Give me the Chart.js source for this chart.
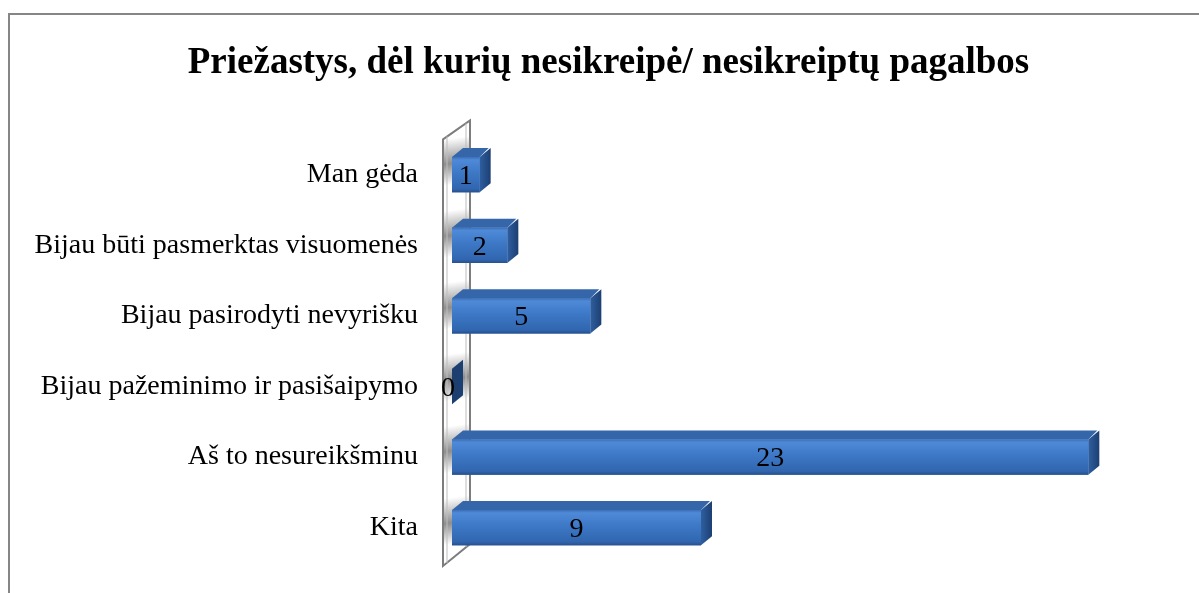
<!DOCTYPE html>
<html>
<head>
<meta charset="utf-8">
<script src="https://cdn.jsdelivr.net/npm/chart.js"></script>
<style>
  html, body { margin: 0; padding: 0; background: #fff; }
  #wrap { position: relative; width: 1199px; height: 593px; overflow: hidden; }
</style>
</head>
<body>
<div id="wrap"><canvas id="c" width="1199" height="593"></canvas></div>
<script>
var categories = [
  'Man gėda',
  'Bijau būti pasmerktas visuomenės',
  'Bijau pasirodyti nevyrišku',
  'Bijau pažeminimo ir pasišaipymo',
  'Aš to nesureikšminu',
  'Kita'
];
var counts = [1, 2, 5, 0, 23, 9];
var chartTitle = 'Priežastys, dėl kurių nesikreipė/ nesikreiptų pagalbos';
var xMax = 27;

var serif = "'Liberation Serif', 'Times New Roman', serif";
var DEPTH_X = 11, DEPTH_Y = 9;

// outer frame of the chart object (only top + left visible)
var framePlugin = {
  id: 'frame',
  beforeDraw: function (chart) {
    var ctx = chart.ctx;
    ctx.save();
    ctx.fillStyle = '#868686';
    ctx.fillRect(8, 13, 2, 600);
    ctx.fillRect(8, 13, 1199, 2);
    ctx.restore();
  }
};

// the slanted 3D "wall" behind the bars
var wallPlugin = {
  id: 'wall',
  beforeDatasetsDraw: function (chart) {
    var ctx = chart.ctx, a = chart.chartArea;
    var l = a.left - 9, r = a.left + 18;
    var pts = [[l, a.top], [r, a.top - 19], [r, a.bottom - 19], [l, a.bottom + 3]];
    ctx.save();
    ctx.beginPath();
    ctx.moveTo(pts[0][0], pts[0][1]);
    for (var i = 1; i < pts.length; i++) ctx.lineTo(pts[i][0], pts[i][1]);
    ctx.closePath();
    var g = ctx.createLinearGradient(l, a.top, r + 30, a.bottom);
    var n = 6;
    for (var k = 0; k < n; k++) {
      var s = k / n;
      g.addColorStop(s, '#ffffff');
      g.addColorStop(s + 0.35 / n, '#8e8e8e');
      g.addColorStop(s + 0.65 / n, '#ffffff');
    }
    g.addColorStop(1, '#ffffff');
    ctx.fillStyle = g;
    ctx.fill();
    ctx.strokeStyle = '#7d7d7d';
    ctx.lineWidth = 2;
    ctx.stroke();
    ctx.strokeStyle = '#bdbdbd';
    ctx.lineWidth = 1;
    ctx.beginPath();
    ctx.moveTo(l + 4, a.top - 3); ctx.lineTo(l + 4, a.bottom);
    ctx.moveTo(r - 4, a.top - 16); ctx.lineTo(r - 4, a.bottom - 16);
    ctx.stroke();
    ctx.restore();
  }
};

// 3D faces + value labels on top of the bars
var barsPlugin = {
  id: 'bars3d',
  afterDatasetsDraw: function (chart) {
    var ctx = chart.ctx;
    var meta = chart.getDatasetMeta(0);
    ctx.save();
    meta.data.forEach(function (bar, i) {
      var x0 = Math.min(bar.base, bar.x), x1 = Math.max(bar.base, bar.x);
      var top = bar.y - bar.height / 2, bot = bar.y + bar.height / 2;

      if (x1 > x0) {
        // front face
        var fg = ctx.createLinearGradient(0, top, 0, bot);
        fg.addColorStop(0, '#3c6fb6');
        fg.addColorStop(0.08, '#4e8ad8');
        fg.addColorStop(0.45, '#3d78c6');
        fg.addColorStop(0.9, '#3166af');
        fg.addColorStop(1, '#284f8a');
        ctx.fillStyle = fg;
        ctx.fillRect(x0, top, x1 - x0, bot - top);

        // top face
        ctx.beginPath();
        ctx.moveTo(x0, top);
        ctx.lineTo(x0 + DEPTH_X, top - DEPTH_Y);
        ctx.lineTo(x1 + DEPTH_X - 2, top - DEPTH_Y);
        ctx.lineTo(x1, top);
        ctx.closePath();
        ctx.fillStyle = '#3566aa';
        ctx.fill();
      }

      // side face
      var sg = ctx.createLinearGradient(x1, 0, x1 + DEPTH_X, 0);
      sg.addColorStop(0, x1 > x0 ? '#2f5fa0' : '#1d3f6e');
      sg.addColorStop(1, '#1c3f72');
      ctx.beginPath();
      ctx.moveTo(x1, top);
      ctx.lineTo(x1 + DEPTH_X, top - DEPTH_Y);
      ctx.lineTo(x1 + DEPTH_X, bot - DEPTH_Y);
      ctx.lineTo(x1, bot);
      ctx.closePath();
      ctx.fillStyle = sg;
      ctx.fill();

      // value label
      ctx.fillStyle = '#000';
      ctx.font = '28px ' + serif;
      ctx.textAlign = 'center';
      ctx.textBaseline = 'middle';
      var lx = x1 > x0 ? (x0 + x1) / 2 : x0 - 4;
      ctx.fillText(String(counts[i]), lx, bar.y + 2);
    });
    ctx.restore();
  }
};

new Chart(document.getElementById('c'), {
  type: 'bar',
  data: {
    labels: categories,
    datasets: [{
      data: counts,
      backgroundColor: '#3d78c6',
      borderWidth: 0,
      barPercentage: 0.5,
      categoryPercentage: 1
    }]
  },
  options: {
    indexAxis: 'y',
    responsive: false,
    animation: false,
    layout: { padding: { left: 18, right: 0, top: 0, bottom: 30 } },
    plugins: {
      legend: { display: false },
      tooltip: { enabled: false },
      title: {
        display: true,
        text: chartTitle,
        color: '#000',
        font: { family: serif, size: 37, weight: 'bold', lineHeight: 1.2 },
        padding: { top: 41, bottom: 54 }
      }
    },
    scales: {
      x: { display: false, min: 0, max: xMax },
      y: {
        grid: { display: false, drawTicks: false },
        border: { display: false },
        ticks: { color: '#000', padding: 34, font: { family: serif, size: 28 } },
        afterFit: function (scale) {
          scale.width = 434;
          scale.paddingTop = 0;
          scale.paddingBottom = 0;
        }
      }
    }
  },
  plugins: [framePlugin, wallPlugin, barsPlugin]
});
</script>
</body>
</html>
